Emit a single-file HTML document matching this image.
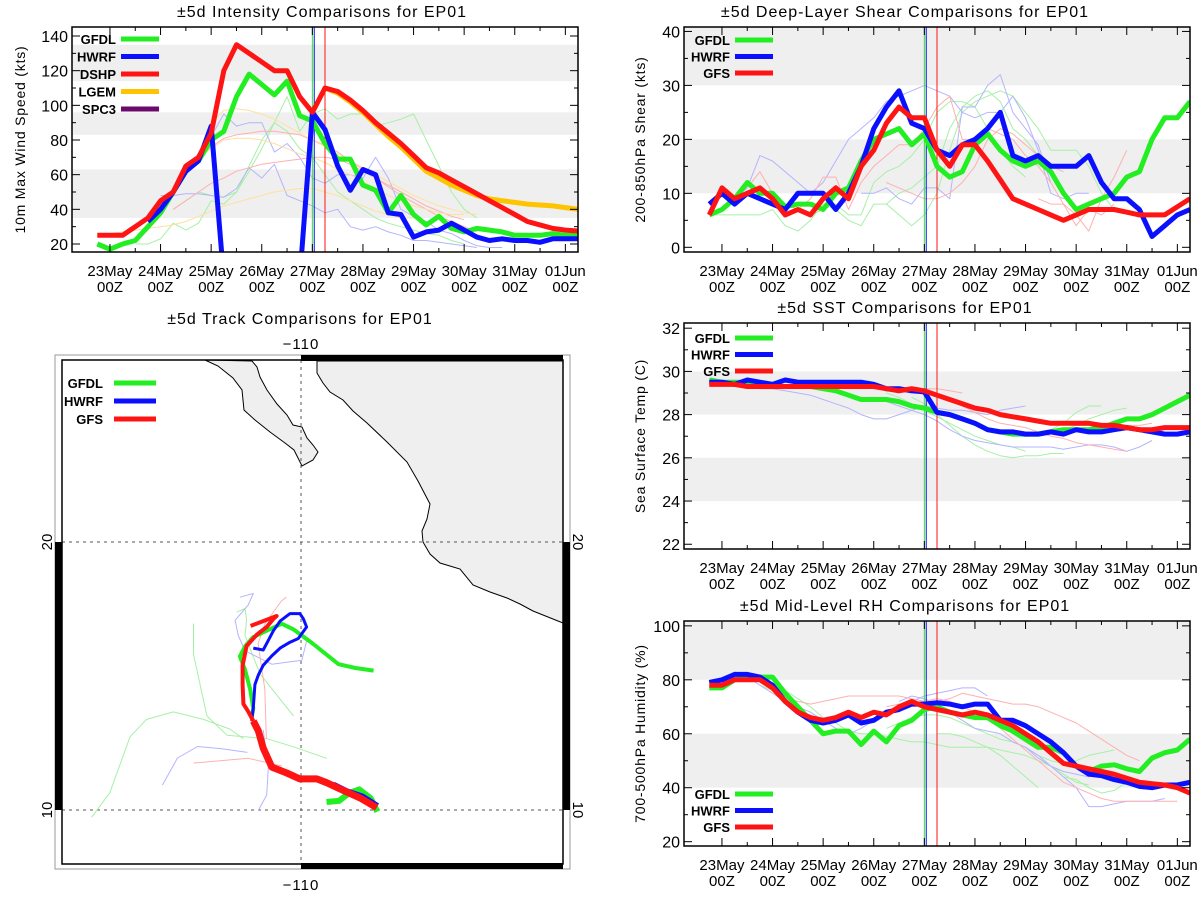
<!DOCTYPE html>
<html><head><meta charset="utf-8"><title>EP01 model comparisons</title>
<style>
html,body{margin:0;padding:0;background:#fff;}
svg{display:block;font-family:"Liberation Sans","DejaVu Sans",sans-serif;}
</style></head>
<body>
<svg id="chart" width="1200" height="900" viewBox="0 0 1200 900" xmlns="http://www.w3.org/2000/svg">
<defs>
<clipPath id="clipInt"><rect x="72" y="27" width="506" height="225"/></clipPath>
<clipPath id="clipShear"><rect x="684" y="27" width="506" height="225"/></clipPath>
<clipPath id="clipSst"><rect x="684" y="323" width="506" height="226"/></clipPath>
<clipPath id="clipRh"><rect x="684" y="621" width="506" height="225"/></clipPath>
</defs>
</svg>
<script>
// ---------- data ----------
const dayLabels = ['23May','24May','25May','26May','27May','28May','29May','30May','31May','01Jun'];
const hourLabel = '00Z';
// time index i: 6-hourly starting 22May 18Z
const intTicks = [20,40,60,80,100,120,140];
const shearTicks = [0,10,20,30,40];
const sstTicks = [22,24,26,28,30,32];
const rhTicks = [20,40,60,80,100];

const intGFDL = [20,17,20,22,30,38,50,62,68,80,85,105,118,112,106,114,94,91,78,69,69,54,51,38,48,37,31,36,29,27,29,28,27,25,25,25,26,25,25];
const intHWRF = [null,null,null,null,33,40,50,62,68,88,0,0,0,0,0,0,0,96,86,65,51,63,60,38,37,24,27,28,32,28,24,22,23,22,22,21,23,23,23];
const intDSHP = [25,25,25,30,35,45,50,65,70,84,120,135,130,125,120,120,105,96,110,108,103,97,90,84,78,71,64,61,57,53,49,45,41,37,33,31,29,28,27.5];
const intLGEM = [null,null,null,null,null,null,null,null,null,null,null,null,null,null,null,null,null,null,110,107,102,96,89,82,76,69,62,58,54,51,48,46,45,44,43,42.5,42,41,40];
const intThinGreen = [[3,[20,20,23,32,28,32,45,43,50,62,75,90,105,85,95,98,92,95,95,88,90,92,95,80,65,50,40,35]],[6,[40,45,50,48,47,50,65,80,90,85,75,70,60,50,45,40,35,32,30,28,26,25,22,20]]];
const intThinBlue = [[5,[48,48,49,49,48,47,52,64,58,66,48,45,42,38,40,30,28,30,27,25,22,22,21,20,19,18]],[9,[82,95,88,90,90,73,78,70,58,55,60,60,58,70,58,40,36,33,28,26,22,19,18,18]]];
const intThinRed = [[8,[70,76,81,83,84,85,85,84,83,80,77,73,68,63,58,53,48,44,40,36,33,30,27]],[6,[40,45,50,55,58,62,64,66,67,68,69,70,70,69,66,62,58,54,50,46,42,39,36,34]]];
const intThinOrange = [[1,[26,27,28,29,30,31,33,36,39,42,44,46,48,50,51,52,52,50,48,45,42,39,37,35,35]],[6,[50,60,70,75,80,81,81,80,78,75,72,70,67,63,60,56,52,48,45,42,40,38,37,37]],[9,[90,97,98,97,95,92,88,84,80,76,72,68,64,60,56,52,48,45,42,40,38,37]]];

const shearGFDL = [6,7,9,12,10,10,7.5,8,8,7,10,11,16,20,21,22,19,21,15,13,14,19,21,18,16,15,16,14,10,7,8,9,10,13,14,20,24,24,27];
const shearHWRF = [8,10,8,10,9,8,7,10,10,10,7,10,15,22,26,29,23,22,18,17,19,20,22,25,17,16,17,15,15,15,17,12,9,9,7,2,4,6,7];
const shearGFS = [6,11,9,10,11,9,6,7,6,9,11,9,15,18,23,26,24,24,18,15,19,19,16,12.5,9,8,7,6,5,6,7,7,7,6.5,6,6,6,7.5,9];
const shearThinGreen = [[0,[6,6,6,6,6,7,4,3,5,8,7,5,4,8,8,6,4,6,10,18,25,27,28,29,28,25,22,18,18,18,15,10,7]],[8,[6,7,8,6,6,12,14,15,17,20,25,27,27,26,22,18,15,13]],[14,[8,10,11,13,15,22,26,28,29,27,22,20,17]]];
const shearThinBlue = [[2,[9,11,17,16,14,12,10,12,16,20,22,24,27,28,29,30,29,28,25,24,25,25,28,24,18,10,9,10,10]],[12,[10,10,11,9,8,11,11,9,26,26,30,32,25,22,19,12]]];
const shearThinRed = [[3,[11,14,10,8,7,9,13,13,7,12,15,17,19,19,22,26,28,20,20,22,21,20,17,15,12,8,4,7,6,8]],[14,[12,11,10,9,9,10,12,15,20,22,21,19,17,15,14]],[26,[9,8,8,6,3,9,13,18]]];

const sstGFDL = [29.6,29.5,29.5,29.5,29.4,29.3,29.3,29.3,29.3,29.2,29.1,28.9,28.7,28.7,28.7,28.6,28.4,28.3,28.1,28.0,27.8,27.6,27.3,27.2,27.1,27.1,27.1,27.2,27.3,27.3,27.3,27.4,27.6,27.8,27.8,28.0,28.3,28.6,28.9];
const sstHWRF = [29.5,29.5,29.4,29.6,29.5,29.4,29.6,29.5,29.5,29.5,29.5,29.5,29.5,29.4,29.2,29.2,29.1,29.05,28.1,28.0,27.8,27.6,27.3,27.2,27.2,27.1,27.1,27.2,27.1,27.3,27.2,27.2,27.3,27.4,27.3,27.2,27.1,27.1,27.2];
const sstGFS = [29.4,29.4,29.4,29.3,29.3,29.3,29.3,29.3,29.3,29.3,29.3,29.3,29.3,29.3,29.2,29.1,29.2,29.1,28.9,28.7,28.5,28.3,28.2,28.0,27.9,27.8,27.7,27.6,27.6,27.6,27.6,27.5,27.5,27.4,27.3,27.3,27.4,27.4,27.4];
const sstThinGreen = [[14,[29.0,28.8,28.5,28.2,27.9,27.6,27.3,27.0,26.8,26.6,26.5,26.3]],[16,[28.8,28.5,28.0,27.5,27.0,26.6,26.3,26.1,26.0,26.1,26.1,26.2,26.2]],[20,[27.8,27.5,27.3,27.2,27.1,27.0,27.1,27.3,27.6,28.1,28.4,28.4]],[26,[27.0,27.2,27.3,27.5,27.8,28.0,28.2,28.3]]];
const sstThinBlue = [[3,[29.3,29.2,29.2,29.1,29.0,28.9,28.7,28.5,28.3,28.0,27.8,27.8,28.0,28.2,28.4,28.3,28.2,28.2,28.1,28.0,28.2,28.3,28.4]],[14,[28.6,28.4,28.2,28.0,27.7,27.3,27.0,26.8,26.7,26.6,26.5,26.5,26.5,26.5,26.4,26.5,26.6,26.6,26.5,26.3,26.5,26.8]]];
const sstThinRed = [[16,[29.2,29.2,29.2,29.1,29.0]],[18,[28.9,28.7,28.4,28.1,27.8,27.6,27.5,27.4,27.2,27.0,26.9,26.7,26.6,26.5,26.4,26.3]],[26,[27.6,27.6,27.6,27.5,27.5,27.5,27.5,27.5,27.5,27.6]]];

const rhGFDL = [77,77,80,81,81,81,75,70,65,60,61,61,56,61,57,63,65,69,70,68,67,66,66,63,61,58,55,55,53,48,46,48,48.5,47,46,51,53,54,58];
const rhHWRF = [79,80,82,82,81,78,72,68,65,64,65,67,64,65,68,69,71,71,71.5,71,70,71,71,65,65,63,60,57,53,48,45,44.5,43,42,40.5,40,41,41,42];
const rhGFS = [78,78,80,80,80,77,72,68,66,65,66,68,66,68,67,70,72,70,69,68,67,68,67,65,63,60,57,53,49,48,47,46,45,43.5,42,41.5,41,40,38];
const rhThinGreen = [[4,[78,76,76,73,70,66,64,61,60,60,59,58,57,57,56,55,55,55,55,54,53,52,50,48,45,42,41]],[14,[62,64,66,67,67,66,64,62,60,58,57,55,52,50,49,50,52,53,54]],[18,[60,60,59,57,55,52,48,44,40]],[28,[44,43,40,38,39,42]]];
const rhThinBlue = [[2,[83,81,78,75,72,70,68,65,62,60,62,65,68,70,72,74,75,76,77,77,74]],[15,[72,74,73,71,68,65,62,61,60,57,55,51,48,46,45,44,48]],[24,[57,55,52,48,44,40,33,33,34,35,35,35,36]]];
const rhThinRed = [[5,[75,73,72,71,72,73,74,74,74,74,74,73,72,72,73,75,74,73,72,71,71,70,68,66,64,61,58,55,52,50]],[14,[70,71,71,72,73,72,70,68,66,63,60,57,54]],[22,[66,62,58,54,50,46,42,40,38,36,35,35,35,35,35,35]]];

// track data (lon, lat)
const gfsBestLon = [-107.18,-107.80,-108.42,-109.04,-109.41,-110.04,-110.53,-111.09,-111.41,-111.59,-111.78];
const gfsBestLat = [10.09,10.45,10.73,11.02,11.16,11.16,11.38,11.60,12.31,12.95,13.32];
const gfsFcstLon = [-111.78,-111.97,-112.15,-112.18,-112.18,-112.03,-111.65,-111.28,-111.03,-110.91,-111.88];
const gfsFcstLat = [13.32,13.68,13.96,14.68,15.40,16.12,16.54,16.83,17.13,17.24,16.87];
const gfdlLon = [-111.84,-111.78,-111.90,-112.09,-112.28,-112.09,-111.78,-111.34,-110.72,-110.28,-109.59,-108.60,-107.97,-107.29];
const gfdlLat = [13.45,13.80,14.51,15.24,15.73,16.10,16.45,16.66,16.95,16.74,16.23,15.44,15.30,15.20];
const gfdlEarlyLon = [-107.15,-107.40,-107.83,-108.21,-108.58,-109.05];
const gfdlEarlyLat = [9.94,10.44,10.77,10.63,10.34,10.30];
const hwrfLon = [-111.84,-111.78,-111.72,-111.59,-111.41,-111.09,-110.78,-110.41,-110.10,-109.79,-109.91,-110.04,-110.41,-110.78,-111.03,-111.22,-111.41,-111.78];
const hwrfLat = [13.32,13.82,14.68,15.04,15.40,15.75,16.04,16.26,16.40,16.83,17.13,17.33,17.33,17.05,16.69,16.33,15.97,16.04];
const hwrfEarlyLon = [-107.15,-107.70,-108.30,-108.80];
const hwrfEarlyLat = [10.15,10.50,10.70,10.95];
const trackThinGreen = [[[-117.81,-117.13,-116.38,-115.76,-114.76,-113.64,-112.65,-112.15],[9.73,10.65,12.73,13.38,13.66,13.38,13.02,12.66]],[[-114.01,-114.01,-113.76,-113.51,-112.76,-111.27,-110.28,-109.04],[16.96,15.81,14.66,13.51,12.79,12.66,12.36,11.93]],[[-112.40,-112.09,-112.03,-112.09,-111.53,-110.28],[17.38,17.52,17.09,16.51,15.08,13.51]]];
const trackThinBlue = [[[-115.17,-114.61,-113.86,-113.00,-112.50,-112.00],[10.93,11.94,12.37,12.29,12.22,12.15]],[[-111.59,-111.28,-111.22,-111.41],[9.99,10.56,11.56,12.99]],[[-112.28,-111.78,-111.97,-112.46,-112.34,-112.09,-111.09,-109.97,-109.79],[17.94,18.08,17.65,17.08,16.51,15.94,15.44,15.59,16.30]]];
const trackThinRed = [[[-114.01,-111.97,-110.72],[11.75,11.93,11.64]],[[-110.55,-110.73,-111.35,-111.60,-111.35,-111.29],[17.94,17.80,16.94,16.21,14.51,12.64]]];

// ---------- helpers ----------
const NS = 'http://www.w3.org/2000/svg';
const svg = document.getElementById('chart');
function mk(tag, attrs, parent) {
  const e = document.createElementNS(NS, tag);
  for (const k in attrs) e.setAttribute(k, attrs[k]);
  (parent || svg).appendChild(e);
  return e;
}
const C = {green:'#22ee22', blue:'#0a10ff', red:'#ff1414', orange:'#ffc400', purple:'#6b0a6b',
  lgreen:'#a6f0a6', lblue:'#b4b4ff', lred:'#ffb0b0', lorange:'#ffe0a0', band:'#efefef'};

function panel(cfg) {
  const g = mk('g', {});
  
  
  const L = cfg.L, R = cfg.R, T = cfg.T, B = cfg.B;
  const dayW = (R - L) / 10;
  const xs = i => L + (0.5 + 0.25 * i) * dayW;
  const ys = v => B - (v - cfg.ymin) / (cfg.ymax - cfg.ymin) * (B - T);
  cfg.bands.forEach(b => {
    const y1 = ys(Math.min(b[1], cfg.ymax)), y0 = ys(Math.max(b[0], cfg.ymin));
    const r = mk('rect', {x: L, y: y1, width: R - L, height: y0 - y1, fill: C.band}, g);
    
    
  });
  const clipG = mk('g', {'clip-path': 'url(#' + cfg.clip + ')'}, g);
  function line(start, vals, color, w, nm) {
    const pts = [];
    vals.forEach((v, k) => { if (v !== null) pts.push(xs(start + k).toFixed(1) + ',' + ys(v).toFixed(1)); });
    const p = mk('polyline', {points: pts.join(' '), fill: 'none', stroke: color, 'stroke-width': w, 'stroke-linejoin': 'round'}, clipG);
    
    
  }
  cfg.thin.forEach(t => t[0].forEach(s => line(s[0], s[1], t[1], 1, 'ensemble-line')));
  // time markers
  [[17, C.green], [17.15, C.blue], [18, C.red]].forEach(m => {
    const l = mk('line', {x1: xs(m[0]), x2: xs(m[0]), y1: T, y2: B, stroke: m[1], 'stroke-width': 1}, clipG);
    
    
  });
  cfg.thick.forEach(s => line(s.start || 0, s.vals, s.color, 5, s.nm));
  // frame
  const fr = mk('rect', {x: L, y: T, width: R - L, height: B - T, fill: 'none', stroke: '#000', 'stroke-width': 1.5}, g);
  
  
  // x ticks
  for (let d = 0; d < 10; d++) {
    const x0 = xs(1 + d * 4);
    [[x0, 8], [x0 + dayW / 2, 4]].forEach(tk => {
      if (tk[0] > R) return;
      mk('line', {x1: tk[0], x2: tk[0], y1: B, y2: B - tk[1], stroke: '#000'}, g);
      mk('line', {x1: tk[0], x2: tk[0], y1: T, y2: T + tk[1], stroke: '#000'}, g);
    });
    const t1 = mk('text', {x: x0, y: B + 24, 'text-anchor': 'middle', 'font-size': 15}, g);
    t1.textContent = dayLabels[d];
    
    
    const t2 = mk('text', {x: x0, y: B + 40, 'text-anchor': 'middle', 'font-size': 15}, g);
    t2.textContent = hourLabel;
    
    
  }
  // y ticks
  for (let v = cfg.ticks[0]; v <= cfg.ticks[cfg.ticks.length - 1] + 1e-6; v += cfg.minor) {
    const y = ys(v);
    const isMaj = cfg.ticks.some(t => Math.abs(t - v) < 1e-6);
    const len = isMaj ? 8 : 4;
    mk('line', {x1: L, x2: L + len, y1: y, y2: y, stroke: '#000'}, g);
    mk('line', {x1: R, x2: R - len, y1: y, y2: y, stroke: '#000'}, g);
  }
  cfg.ticks.forEach(v => {
    const t = mk('text', {x: L - 4, y: ys(v) + 6, 'text-anchor': 'end', 'font-size': 16}, g);
    t.textContent = v;
    
    
  });
  const yt = mk('text', {x: 0, y: 0, transform: 'translate(' + cfg.ytX + ',' + ((T + B) / 2) + ') rotate(-90)', 'text-anchor': 'middle', 'font-size': 14, 'letter-spacing': '0.8'}, g);
  yt.textContent = cfg.ytitle;
  
  
  const tt = mk('text', {x: cfg.titleX, y: T - 10, 'text-anchor': 'middle', 'font-size': 16, 'letter-spacing': '1'}, g);
  tt.textContent = cfg.title;
  
  
  // legend
  cfg.legend.forEach((e, k) => {
    const y = cfg.legY + k * cfg.legDy;
    const lt = mk('text', {x: cfg.legTX, y: y + 5, 'text-anchor': 'end', 'font-size': 13, 'font-weight': 'bold'}, g);
    lt.textContent = e[0];
    
    
    const ll = mk('line', {x1: cfg.legTX + 5, x2: cfg.legTX + 43, y1: y, y2: y, stroke: e[1], 'stroke-width': 5}, g);
    
    
  });
}

panel({name: 'intensity-panel', L: 72, R: 578, T: 27, B: 252, ymin: 15.38, ymax: 145.2, clip: 'clipInt',
  bands: [[35, 63], [83, 96], [114, 135]], ticks: intTicks, minor: 10, ytitle: '10m Max Wind Speed (kts)', ytX: 25,
  title: '±5d Intensity Comparisons for EP01', titleX: 322,
  thin: [[intThinGreen, C.lgreen], [intThinBlue, C.lblue], [intThinRed, C.lred], [intThinOrange, C.lorange]],
  thick: [{vals: intLGEM, color: C.orange, nm: 'lgem-line'}, {vals: intGFDL, color: C.green, nm: 'gfdl-line'}, {vals: intHWRF, color: C.blue, nm: 'hwrf-line'}, {vals: intDSHP, color: C.red, nm: 'dshp-line'}],
  legend: [['GFDL', C.green], ['HWRF', C.blue], ['DSHP', C.red], ['LGEM', C.orange], ['SPC3', C.purple]], legY: 39, legDy: 17.5, legTX: 116});
panel({name: 'shear-panel', L: 684, R: 1190, T: 27, B: 252, ymin: -0.87, ymax: 40.82, clip: 'clipShear',
  bands: [[10, 20], [30, 45]], ticks: shearTicks, minor: 5, ytitle: '200-850hPa Shear (kts)', ytX: 645,
  title: '±5d Deep-Layer Shear Comparisons for EP01', titleX: 905,
  thin: [[shearThinGreen, C.lgreen], [shearThinBlue, C.lblue], [shearThinRed, C.lred]],
  thick: [{vals: shearGFDL, color: C.green, nm: 'gfdl-line'}, {vals: shearHWRF, color: C.blue, nm: 'hwrf-line'}, {vals: shearGFS, color: C.red, nm: 'gfs-line'}],
  legend: [['GFDL', C.green], ['HWRF', C.blue], ['GFS', C.red]], legY: 40, legDy: 16.5, legTX: 730});
panel({name: 'sst-panel', L: 684, R: 1190, T: 323, B: 549, ymin: 21.78, ymax: 32.24, clip: 'clipSst',
  bands: [[24, 26], [28, 30]], ticks: sstTicks, minor: 1, ytitle: 'Sea Surface Temp (C)', ytX: 645,
  title: '±5d SST Comparisons for EP01', titleX: 905,
  thin: [[sstThinGreen, C.lgreen], [sstThinBlue, C.lblue], [sstThinRed, C.lred]],
  thick: [{vals: sstGFDL, color: C.green, nm: 'gfdl-line'}, {vals: sstHWRF, color: C.blue, nm: 'hwrf-line'}, {vals: sstGFS, color: C.red, nm: 'gfs-line'}],
  legend: [['GFDL', C.green], ['HWRF', C.blue], ['GFS', C.red]], legY: 338, legDy: 16.5, legTX: 730});
panel({name: 'rh-panel', L: 684, R: 1190, T: 621, B: 846, ymin: 18.4, ymax: 101.8, clip: 'clipRh',
  bands: [[40, 60], [80, 105]], ticks: rhTicks, minor: 10, ytitle: '700-500hPa Humidity (%)', ytX: 645,
  title: '±5d Mid-Level RH Comparisons for EP01', titleX: 905,
  thin: [[rhThinGreen, C.lgreen], [rhThinBlue, C.lblue], [rhThinRed, C.lred]],
  thick: [{vals: rhGFDL, color: C.green, nm: 'gfdl-line'}, {vals: rhHWRF, color: C.blue, nm: 'hwrf-line'}, {vals: rhGFS, color: C.red, nm: 'gfs-line'}],
  legend: [['GFDL', C.green], ['HWRF', C.blue], ['GFS', C.red]], legY: 794, legDy: 16.5, legTX: 730});

// ---------- track map ----------
const mapG = mk('g', {});


const lonX = lon => 301 + (lon + 110) * 26.8;
const latY = lat => 542 - (lat - 20) * 26.8;
const mt = mk('text', {x: 300, y: 324, 'text-anchor': 'middle', 'font-size': 16, 'letter-spacing': '1'}, mapG);
mt.textContent = '±5d Track Comparisons for EP01';


const outer = mk('rect', {x: 55, y: 355, width: 515, height: 514, fill: 'none', stroke: '#999', 'stroke-width': 1}, mapG);


const land1 = mk('path', {d: 'M205,360 L218,366 L233,378 L242,390 L244,410 L255,420 L270,432 L285,443 L294,450 L302,466 L313,460 L318,452 L313,445 L307,438 L302,427 L293,425 L287,415 L277,404 L267,390 L260,377 L257,367 L252,361 Z', fill: '#efefef', stroke: '#000', 'stroke-width': 1}, mapG);


const land2 = mk('path', {d: 'M317,361 L317,373 L323,383 L330,392 L343,400 L353,411 L367,423 L387,442 L407,462 L418,481 L430,504 L427,519 L422,531 L423,542 L430,554 L440,563 L460,569 L473,585 L490,592 L507,598 L520,604 L533,611 L553,619 L563,623 L563,361 Z', fill: '#efefef', stroke: '#000', 'stroke-width': 1}, mapG);


[[301, 360, 301, 864], [62, 542, 563, 542], [62, 810, 563, 810]].forEach(l => {
  const gl = mk('line', {x1: l[0], y1: l[1], x2: l[2], y2: l[3], stroke: '#555', 'stroke-width': 1, 'stroke-dasharray': '3,4'}, mapG);
  
  
});
function track(lons, lats, color, w, nm) {
  const pts = lons.map((lo, k) => lonX(lo).toFixed(1) + ',' + latY(lats[k]).toFixed(1)).join(' ');
  const p = mk('polyline', {points: pts, fill: 'none', stroke: color, 'stroke-width': w, 'stroke-linejoin': 'round'}, mapG);
  
  
}
trackThinGreen.forEach(t => track(t[0], t[1], C.lgreen, 1, 'ensemble-track'));
trackThinBlue.forEach(t => track(t[0], t[1], C.lblue, 1, 'ensemble-track'));
trackThinRed.forEach(t => track(t[0], t[1], C.lred, 1, 'ensemble-track'));
track(gfdlEarlyLon, gfdlEarlyLat, C.green, 6, 'gfdl-track-early');
track(hwrfEarlyLon, hwrfEarlyLat, C.blue, 6, 'hwrf-track-early');
track(gfsBestLon, gfsBestLat, C.red, 7, 'best-track');
track(gfdlLon, gfdlLat, C.green, 4, 'gfdl-track');
track(hwrfLon, hwrfLat, C.blue, 3, 'hwrf-track');
track(gfsFcstLon, gfsFcstLat, C.red, 4, 'gfs-track');
const inner = mk('rect', {x: 62, y: 360, width: 501, height: 504, fill: 'none', stroke: '#000', 'stroke-width': 1.5}, mapG);


[[301, 355, 262, 6], [301, 863, 262, 6], [563, 542, 7, 268], [55, 542, 7, 268]].forEach(b => {
  const r = mk('rect', {x: b[0], y: b[1], width: b[2], height: b[3], fill: '#000'}, mapG);
  
  
});
[['−110', 301, 349, 0], ['−110', 301, 890, 0]].forEach(a => {
  const t = mk('text', {x: a[1], y: a[2], 'text-anchor': 'middle', 'font-size': 15, 'letter-spacing': '1'}, mapG);
  t.textContent = a[0];
  
  
});
[['20', 542], ['10', 810]].forEach(a => {
  const tr = mk('text', {x: 0, y: 0, transform: 'translate(573,' + a[1] + ') rotate(90)', 'text-anchor': 'middle', 'font-size': 15}, mapG);
  tr.textContent = a[0];
  
  
  const tl = mk('text', {x: 0, y: 0, transform: 'translate(52,' + a[1] + ') rotate(-90)', 'text-anchor': 'middle', 'font-size': 15}, mapG);
  tl.textContent = a[0];
  
  
});
[['GFDL', C.green, 383], ['HWRF', C.blue, 401], ['GFS', C.red, 419]].forEach(e => {
  const t = mk('text', {x: 103, y: e[2] + 5, 'text-anchor': 'end', 'font-size': 13, 'font-weight': 'bold'}, mapG);
  t.textContent = e[0];
  
  
  const l = mk('line', {x1: 114, x2: 156, y1: e[2], y2: e[2], stroke: e[1], 'stroke-width': 5}, mapG);
  
  
});
</script>
</body></html>
